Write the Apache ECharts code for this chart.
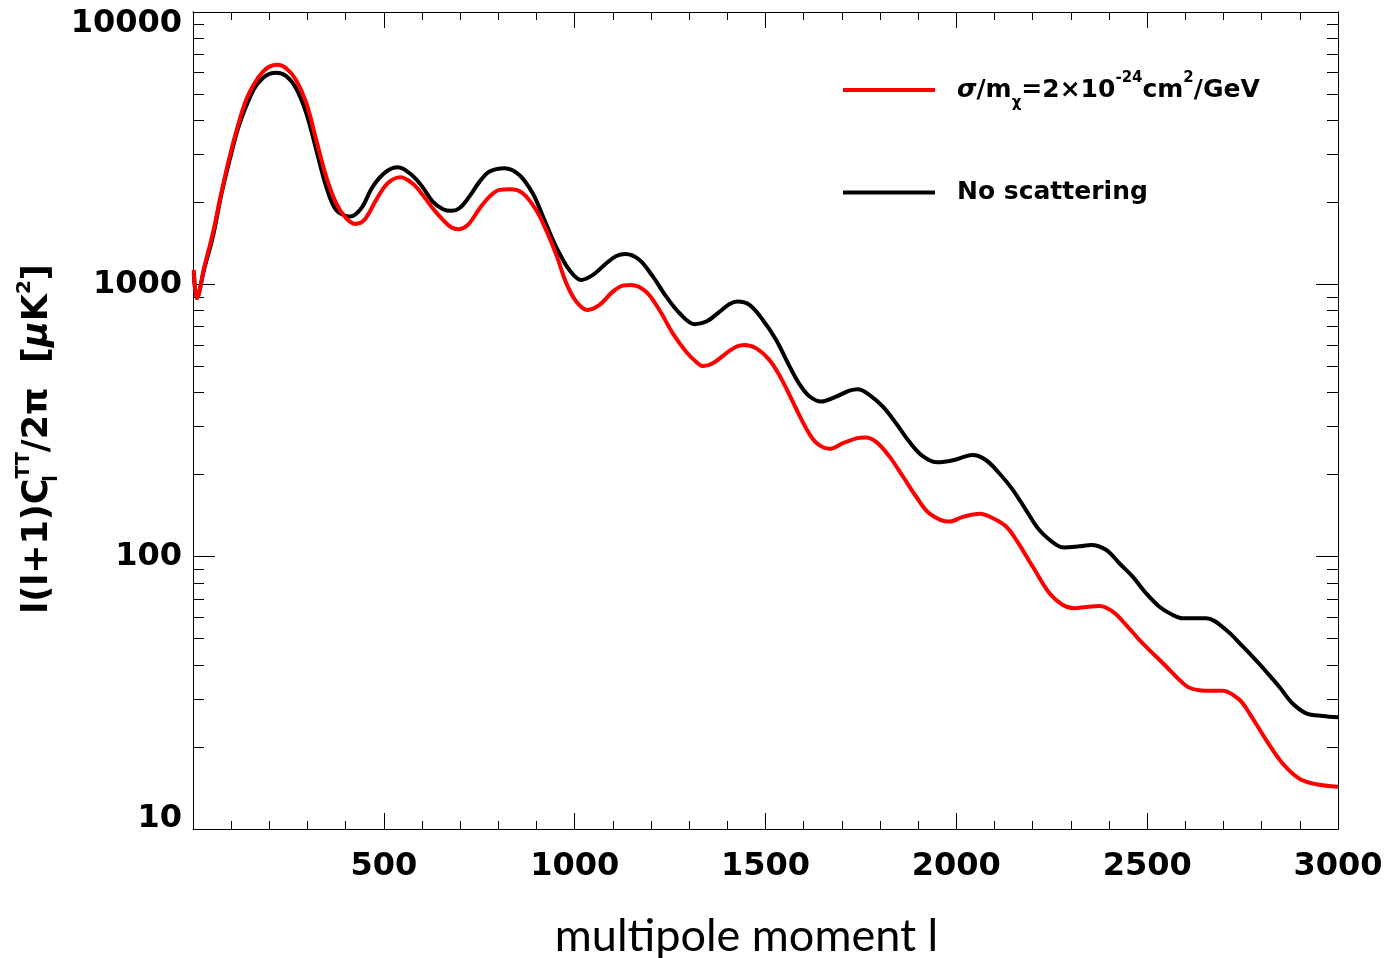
<!DOCTYPE html>
<html>
<head>
<meta charset="utf-8">
<script src="https://cdn.jsdelivr.net/npm/echarts@6/dist/echarts.min.js"></script>
<style>
  html, body { margin: 0; padding: 0; background: #fff; }
  #chart { width: 1387px; height: 958px; }
</style>
</head>
<body>
<div id="chart"></div>
<script>
// CMB temperature power spectrum l(l+1)C_l/2π in μK², sampled along multipole l
const multipoleNoScatter = [2, 10, 30, 52, 74, 96, 117, 139, 161, 183, 200, 219, 244, 270, 297, 323, 349, 375, 412, 441, 471, 506, 537, 576, 602, 628, 655, 676, 698, 724, 751, 777, 816, 855, 890, 917, 943, 960, 986, 1017, 1048, 1083, 1109, 1133, 1170, 1205, 1240, 1275, 1314, 1345, 1380, 1406, 1427, 1458, 1493, 1528, 1563, 1589, 1615, 1646, 1685, 1720, 1742, 1772, 1807, 1842, 1877, 1912, 1951, 1991, 2026, 2043, 2078, 2113, 2148, 2183, 2218, 2262, 2283, 2323, 2353, 2393, 2427, 2462, 2497, 2532, 2567, 2593, 2629, 2655, 2707, 2751, 2786, 2812, 2846, 2881, 2917, 2960, 3000];
const powerNoScatter = [1100, 890, 1150, 1496, 2130, 2864, 3700, 4495, 5250, 5717, 5926, 5985, 5821, 5250, 4246, 3116, 2286, 1875, 1774, 1903, 2286, 2594, 2692, 2500, 2270, 2013, 1887, 1861, 1903, 2099, 2383, 2594, 2669, 2522, 2160, 1774, 1455, 1300, 1130, 1038, 1083, 1195, 1271, 1293, 1229, 1067, 901, 783, 714, 730, 794, 847, 864, 840, 740, 625, 500, 430, 388, 371, 387, 407, 412, 393, 356, 309, 264, 234, 222, 226, 234, 236, 226, 202, 176, 148, 125, 110.4, 108, 109.2, 110.4, 105.8, 94.6, 84.5, 73.4, 65.5, 61.1, 59.4, 59.4, 59.4, 53.8, 46.7, 41.5, 37.8, 33.3, 28.9, 26.6, 26.0, 25.7];

const multipoleScatter = [2, 10, 30, 52, 74, 96, 117, 139, 161, 183, 200, 221, 244, 270, 297, 323, 349, 375, 401, 425, 449, 480, 510, 544, 576, 602, 628, 655, 676, 697, 720, 751, 777, 803, 831, 864, 899, 925, 952, 978, 1004, 1034, 1065, 1100, 1126, 1148, 1187, 1222, 1257, 1292, 1318, 1337, 1362, 1397, 1423, 1445, 1476, 1510, 1537, 1558, 1580, 1607, 1633, 1668, 1703, 1738, 1762, 1790, 1825, 1860, 1895, 1930, 1982, 2017, 2061, 2096, 2131, 2157, 2200, 2244, 2279, 2310, 2340, 2375, 2410, 2445, 2480, 2506, 2550, 2580, 2611, 2655, 2698, 2742, 2768, 2812, 2855, 2899, 2943, 3000];
const powerScatter = [1130, 890, 1162, 1540, 2160, 2944, 3793, 4753, 5476, 6028, 6300, 6400, 6218, 5632, 4624, 3388, 2486, 1986, 1749, 1667, 1724, 2042, 2350, 2472, 2340, 2128, 1903, 1724, 1621, 1594, 1652, 1900, 2099, 2222, 2233, 2160, 1875, 1585, 1283, 1010, 865, 805, 840, 940, 989, 995, 940, 805, 661, 566, 520, 501, 513, 558, 590, 599, 582, 528, 462, 405, 350, 295, 262, 249, 261, 272, 274, 264, 233, 197, 166, 144, 134.5, 140, 143.6, 138.4, 128.8, 115.2, 92, 73.4, 66.5, 64.7, 65.4, 65.9, 62.8, 56.1, 49.4, 45.4, 39.5, 35.8, 33.0, 32.2, 32.2, 29.8, 26.6, 21.2, 17.4, 15.3, 14.6, 14.3];

const scatterName = 'σ/mχ=2×10⁻²⁴cm²/GeV';
const noScatterName = 'No scattering';

const yMajorTicks = [10, 100, 1000, 10000];
const yMinorTicks = [20, 30, 40, 50, 60, 70, 80, 90, 200, 300, 400, 500, 600, 700, 800, 900, 2000, 3000, 4000, 5000, 6000, 7000, 8000, 9000];

const zip = (xs, ys) => xs.map((x, i) => [x, ys[i]]);

const boldFace = 'DejaVu Sans';
const tickFont = { fontFamily: boldFace, fontWeight: 'bold', fontSize: 32, color: '#000' };
const axisLineStyle = { color: '#000', width: 1 };

function xAxisDef(pos, withLabels) {
  return {
    type: 'value', position: pos, min: 0, max: 3000, interval: 500,
    axisLine: { show: true, lineStyle: axisLineStyle },
    axisTick: { show: true, inside: true, length: 16, lineStyle: axisLineStyle },
    minorTick: { show: true, splitNumber: 5, length: 8, lineStyle: axisLineStyle },
    splitLine: { show: false }, minorSplitLine: { show: false },
    axisLabel: withLabels ? Object.assign({
      margin: 22,
      formatter: v => (v === 0 ? '' : String(v))
    }, tickFont) : { show: false },
    name: withLabels ? 'multipole moment l' : '',
    nameLocation: 'middle', nameGap: 85,
    nameTextStyle: { fontFamily: 'Lato', fontSize: 45, color: '#000', padding: [0, 38, 0, 0] }
  };
}

// end labels of the log axis sit inside the frame
const yLabelRich = {
  hi: Object.assign({ padding: [24, 0, 0, 0] }, tickFont),
  lo: Object.assign({ padding: [0, 0, 20, 0] }, tickFont)
};

function yAxisDef(pos, tickValues, tickLen, withLabels) {
  return {
    type: 'log', logBase: 10, position: pos, min: 10, max: 10000,
    axisLine: { show: true, lineStyle: axisLineStyle },
    axisTick: { show: true, inside: true, length: tickLen, customValues: tickValues, lineStyle: axisLineStyle },
    minorTick: { show: false },
    splitLine: { show: false },
    axisLabel: withLabels ? Object.assign({
      margin: 11,
      customValues: yMajorTicks,
      rich: yLabelRich,
      formatter: v => {
        const s = String(Math.round(v));
        if (Math.round(v) === 10000) return '{hi|' + s + '}';
        if (Math.round(v) === 10) return '{lo|' + s + '}';
        return s;
      }
    }, tickFont) : { show: false }
  };
}

const chart = echarts.init(document.getElementById('chart'), null, { renderer: 'canvas' });

const legendBase = { fontFamily: boldFace, fontWeight: 'bold', color: '#000' };
const legendRich = {
  t: Object.assign({ fontSize: 25, lineHeight: 30 }, legendBase),
  g: Object.assign({ fontSize: 25, lineHeight: 30, fontStyle: 'italic' }, legendBase),
  sub: Object.assign({ fontSize: 15, lineHeight: 15, verticalAlign: 'bottom', padding: [0, 0, -6, 0] }, legendBase),
  sup: Object.assign({ fontSize: 15, lineHeight: 15, verticalAlign: 'top', padding: [-4, 0, 0, 0] }, legendBase)
};

const nameBase = { fontFamily: boldFace, fontWeight: 'bold', fill: '#000' };

chart.setOption({
  animation: false,
  backgroundColor: '#fff',
  grid: { left: 193, right: 49, top: 12, bottom: 129, containLabel: false, outerBoundsMode: 'none' },
  xAxis: [xAxisDef('bottom', true), xAxisDef('top', false)],
  yAxis: [
    yAxisDef('left', yMajorTicks, 22, true),
    yAxisDef('left', yMinorTicks, 11, false),
    yAxisDef('right', yMajorTicks, 22, false),
    yAxisDef('right', yMinorTicks, 11, false)
  ],
  legend: {
    data: [scatterName, noScatterName],
    orient: 'vertical',
    left: 843, top: 71, padding: 0,
    icon: 'rect', itemWidth: 92, itemHeight: 4, itemGap: 69,
    selectedMode: false,
    textStyle: { padding: [0, 0, 0, 17], rich: legendRich },
    formatter: name => name === scatterName
      ? '{g|σ}{t|/m}{sub|χ}{t|=2×10}{sup|-24}{t|cm}{sup|2}{t|/GeV}'
      : '{t|No scattering}'
  },
  graphic: [{
    type: 'text',
    x: 38, y: 439,
    rotation: Math.PI / 2,
    style: {
      text: '{t|l(l+1)C}{sub|l}{sup|TT}{t|/2π  [}{g|μ}{t|K}{sup2|2}{t|]}',
      align: 'center', verticalAlign: 'middle',
      rich: {
        t: Object.assign({ fontSize: 35, lineHeight: 40 }, nameBase),
        g: Object.assign({ fontSize: 35, lineHeight: 40, fontStyle: 'italic' }, nameBase),
        sub: Object.assign({ fontSize: 19, lineHeight: 19, verticalAlign: 'bottom', width: 0, padding: [0, 0, -4, 0] }, nameBase),
        sup: Object.assign({ fontSize: 19, lineHeight: 19, verticalAlign: 'top', padding: [-3, 0, 0, 0] }, nameBase),
        sup2: Object.assign({ fontSize: 20, lineHeight: 20, verticalAlign: 'top', padding: [-3, 0, 0, 0] }, nameBase)
      }
    }
  }],
  series: [
    {
      name: noScatterName, type: 'line', xAxisIndex: 0, yAxisIndex: 0,
      data: zip(multipoleNoScatter, powerNoScatter),
      smooth: 0.35, showSymbol: false, symbol: 'none',
      lineStyle: { color: '#000', width: 4 }, itemStyle: { color: '#000' }
    },
    {
      name: scatterName, type: 'line', xAxisIndex: 0, yAxisIndex: 0,
      data: zip(multipoleScatter, powerScatter),
      smooth: 0.35, showSymbol: false, symbol: 'none',
      lineStyle: { color: '#ff0000', width: 4 }, itemStyle: { color: '#ff0000' }
    }
  ]
});
</script>
</body>
</html>
